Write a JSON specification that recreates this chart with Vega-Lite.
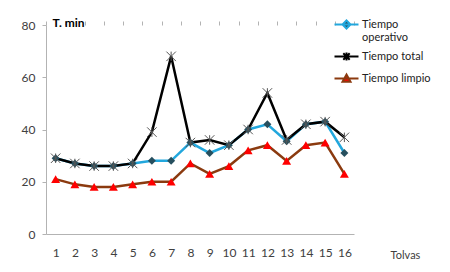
{
  "$schema": "https://vega.github.io/schema/vega-lite/v6.json",
  "autosize": "none",
  "width": 308,
  "height": 209,
  "padding": {"left": 46, "top": 25, "right": 96, "bottom": 38},
  "background": "white",
  "config": {
    "view": {"stroke": null},
    "font": "Lato",
    "axis": {"domainColor": "#b3b3b3", "tickColor": "#b3b3b3", "labelColor": "#404040", "labelFont": "Lato", "labelFontSize": 12, "grid": false},
    "legend": {"orient": "none", "legendX": 295, "legendY": -6, "title": null, "padding": 0, "symbolSize": 64, "symbolOpacity": 1, "symbolStrokeWidth": 2,
               "labelOffset": 10, "labelFont": "Lato", "labelFontSize": 11, "labelColor": "#222", "labelLimit": 200, "rowPadding": 5}
  },
  "data": {"values": [
    {"t": 1, "s": "Tiempo operativo", "v": 29}, {"t": 2, "s": "Tiempo operativo", "v": 27}, {"t": 3, "s": "Tiempo operativo", "v": 26}, {"t": 4, "s": "Tiempo operativo", "v": 26},
    {"t": 5, "s": "Tiempo operativo", "v": 27}, {"t": 6, "s": "Tiempo operativo", "v": 28}, {"t": 7, "s": "Tiempo operativo", "v": 28}, {"t": 8, "s": "Tiempo operativo", "v": 35},
    {"t": 9, "s": "Tiempo operativo", "v": 31}, {"t": 10, "s": "Tiempo operativo", "v": 34}, {"t": 11, "s": "Tiempo operativo", "v": 40}, {"t": 12, "s": "Tiempo operativo", "v": 42},
    {"t": 13, "s": "Tiempo operativo", "v": 35.5}, {"t": 14, "s": "Tiempo operativo", "v": 42}, {"t": 15, "s": "Tiempo operativo", "v": 43}, {"t": 16, "s": "Tiempo operativo", "v": 31},
    {"t": 1, "s": "Tiempo total", "v": 29}, {"t": 2, "s": "Tiempo total", "v": 27}, {"t": 3, "s": "Tiempo total", "v": 26}, {"t": 4, "s": "Tiempo total", "v": 26},
    {"t": 5, "s": "Tiempo total", "v": 27}, {"t": 6, "s": "Tiempo total", "v": 39}, {"t": 7, "s": "Tiempo total", "v": 68}, {"t": 8, "s": "Tiempo total", "v": 35},
    {"t": 9, "s": "Tiempo total", "v": 36}, {"t": 10, "s": "Tiempo total", "v": 34}, {"t": 11, "s": "Tiempo total", "v": 40}, {"t": 12, "s": "Tiempo total", "v": 54},
    {"t": 13, "s": "Tiempo total", "v": 36}, {"t": 14, "s": "Tiempo total", "v": 42}, {"t": 15, "s": "Tiempo total", "v": 43}, {"t": 16, "s": "Tiempo total", "v": 37},
    {"t": 1, "s": "Tiempo limpio", "v": 21}, {"t": 2, "s": "Tiempo limpio", "v": 19}, {"t": 3, "s": "Tiempo limpio", "v": 18}, {"t": 4, "s": "Tiempo limpio", "v": 18},
    {"t": 5, "s": "Tiempo limpio", "v": 19}, {"t": 6, "s": "Tiempo limpio", "v": 20}, {"t": 7, "s": "Tiempo limpio", "v": 20}, {"t": 8, "s": "Tiempo limpio", "v": 27},
    {"t": 9, "s": "Tiempo limpio", "v": 23}, {"t": 10, "s": "Tiempo limpio", "v": 26}, {"t": 11, "s": "Tiempo limpio", "v": 32}, {"t": 12, "s": "Tiempo limpio", "v": 34},
    {"t": 13, "s": "Tiempo limpio", "v": 28}, {"t": 14, "s": "Tiempo limpio", "v": 34}, {"t": 15, "s": "Tiempo limpio", "v": 35}, {"t": 16, "s": "Tiempo limpio", "v": 23}
  ]},
  "layer": [
    {
      "mark": {"type": "line", "strokeWidth": 2.5},
      "encoding": {
        "x": {"field": "t", "type": "quantitative", "scale": {"domain": [0.5, 16.5], "nice": false, "zero": false},
              "axis": {"values": [1,2,3,4,5,6,7,8,9,10,11,12,13,14,15,16], "ticks": false, "domain": true, "labelPadding": 13, "labelFlush": false,
                       "title": "Tolvas", "titleFont": "Lato", "titleFontSize": 11, "titleFontWeight": "normal", "titleColor": "#404040", "titleX": 359, "titleY": 21, "titleAlign": "center", "titleBaseline": "middle", "titleAnchor": null}},
        "y": {"field": "v", "type": "quantitative", "scale": {"domain": [0, 80], "nice": false},
              "axis": {"values": [0,10,20,30,40,50,60,70,80], "tickSize": 4, "labelPadding": 7,
                       "title": "T. min", "titleAngle": 0, "titleFontWeight": "bold", "titleFontSize": 12, "titleColor": "#000", "titleX": 6, "titleY": -3, "titleAlign": "left", "titleBaseline": "middle"}},
        "color": {"field": "s", "type": "nominal",
                  "scale": {"domain": ["Tiempo limpio", "Tiempo operativo", "Tiempo total"], "range": ["#8b3a0f", "#22a7dd", "#000000"]}, "legend": null}
      }
    },
    {
      "transform": [{"filter": "datum.s == 'Tiempo operativo'"}],
      "mark": {"type": "point", "shape": "diamond", "filled": true, "color": "#264f5e", "opacity": 1, "size": 64},
      "encoding": {
        "x": {"field": "t", "type": "quantitative", "axis": {"values": [0.5,1.5,2.5,3.5,4.5,5.5,6.5,7.5,8.5,9.5,10.5,11.5,12.5,13.5,14.5,15.5,16.5], "labels": false, "domain": false, "tickSize": 4, "title": null}},
        "y": {"field": "v", "type": "quantitative"}
      }
    },
    {
      "transform": [{"filter": "datum.s == 'Tiempo total'"}],
      "mark": {"type": "point", "shape": "M-1,-1L1,1M-1,1L1,-1M0,-1L0,1", "filled": false, "stroke": "#555555", "strokeWidth": 1, "opacity": 1, "size": 90},
      "encoding": {
        "x": {"field": "t", "type": "quantitative", "axis": null},
        "y": {"field": "v", "type": "quantitative"}
      }
    },
    {
      "transform": [{"filter": "datum.s == 'Tiempo limpio'"}],
      "mark": {"type": "point", "shape": "triangle-up", "filled": true, "color": "#ff0000", "opacity": 1, "size": 80},
      "encoding": {
        "x": {"field": "t", "type": "quantitative", "axis": null},
        "y": {"field": "v", "type": "quantitative"}
      }
    },
    {
      "mark": {"type": "point", "opacity": 0, "strokeWidth": 2},
      "encoding": {
        "x": {"field": "t", "type": "quantitative", "axis": null},
        "y": {"field": "v", "type": "quantitative"},
        "shape": {"field": "s", "type": "nominal",
                  "scale": {"domain": ["Tiempo operativo", "Tiempo total", "Tiempo limpio"], "range": ["M-3,0H3M0,-1L1,0L0,1L-1,0Z", "M-3,0H3M-0.8,-0.8L0.8,0.8M-0.8,0.8L0.8,-0.8M0,-1L0,1", "M-3,0H3M0,-1L1,0.8L-1,0.8Z"]},
                  "legend": {"labelExpr": "datum.label == 'Tiempo operativo' ? ['Tiempo', 'operativo'] : datum.label"}},
        "fill": {"field": "s", "type": "nominal",
                 "scale": {"domain": ["Tiempo operativo", "Tiempo total", "Tiempo limpio"], "range": ["#264f5e", "transparent", "#ff0000"]},
                 "legend": {"labelExpr": "datum.label == 'Tiempo operativo' ? ['Tiempo', 'operativo'] : datum.label"}},
        "stroke": {"field": "s", "type": "nominal",
                   "scale": {"domain": ["Tiempo operativo", "Tiempo total", "Tiempo limpio"], "range": ["#22a7dd", "#000000", "#8b3a0f"]},
                   "legend": {"labelExpr": "datum.label == 'Tiempo operativo' ? ['Tiempo', 'operativo'] : datum.label"}}
      }
    }
  ],
  "resolve": {"axis": {"x": "independent"}}
}
